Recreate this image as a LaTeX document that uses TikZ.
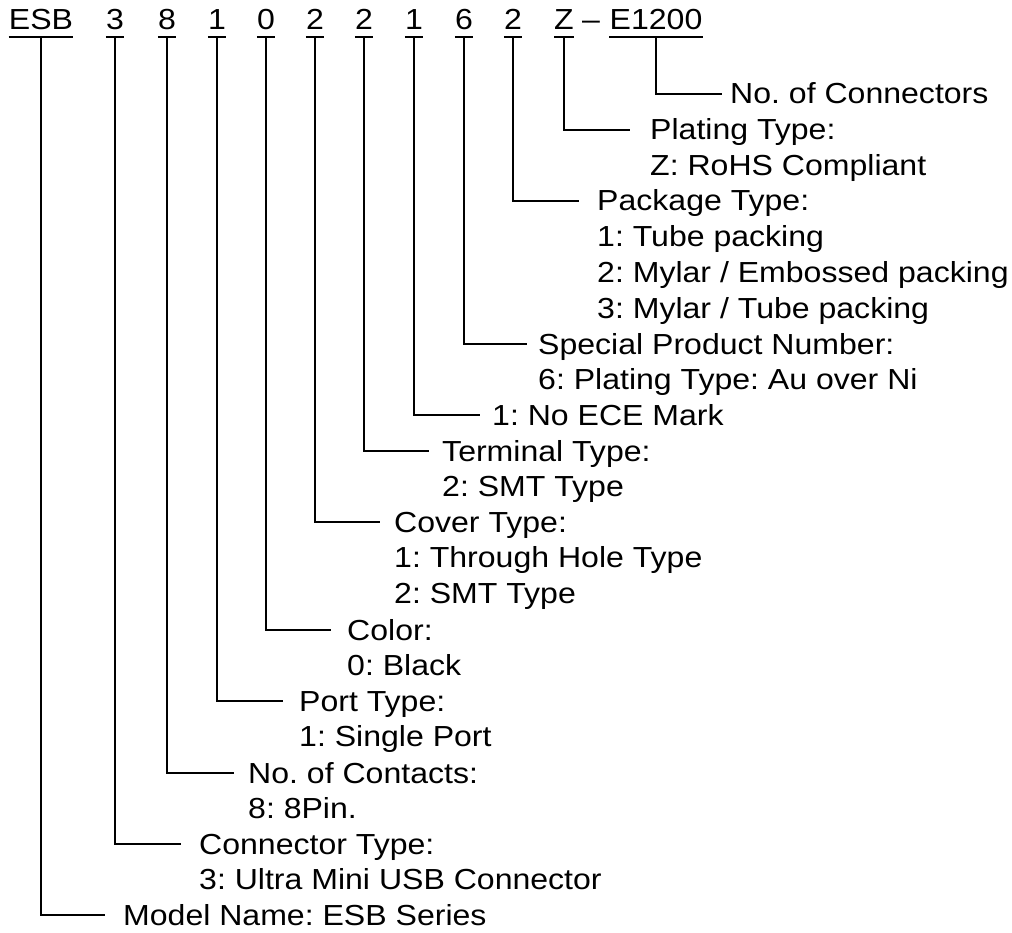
\documentclass[tikz,border=0pt]{standalone}
\usepackage{fontspec}
\setmainfont{Liberation Sans}[FakeStretch=1.105]
\newcommand\lblstack[1]{\vtop{\halign{##\hfil\cr#1\crcr}}}
\begin{document}
\begin{tikzpicture}[x=1pt,y=-1pt,
  code/.style={font=\fontsize{29}{35.7}\selectfont\frenchspacing, inner sep=0pt, text depth=7pt, anchor=base},
  lbl/.style={font=\fontsize{29}{35.7}\selectfont\frenchspacing, inner sep=0pt, anchor=base west},
  uline/.style={line width=2.6pt},
  conn/.style={line width=1.5pt}]
\useasboundingbox (0,0) rectangle (1012,933);
% top code
\node[code] (esb) at (41,30) {ESB};
\node[code] (c3) at (115,30) {3};
\node[code] (c8) at (167,30) {8};
\node[code] (c1a) at (217,30) {1};
\node[code] (c0) at (266,30) {0};
\node[code] (c2a) at (315,30) {2};
\node[code] (c2b) at (364,30) {2};
\node[code] (c1b) at (414,30) {1};
\node[code] (c6) at (464,30) {6};
\node[code] (c2c) at (513,30) {2};
\node[code] (cz) at (564,30) {Z};
\node[code] (dash) at (591,30) {–};
\node[code] (ce) at (656,30) {E1200};
\foreach \n in {esb,c3,c8,c1a,c0,c2a,c2b,c1b,c6,c2c,cz,ce}
  \draw[uline] (\n.south west) -- (\n.south east);
% labels
\node[lbl] (l1) at (730,104) {No. of Connectors};
\node[lbl] (l2) at (650,140) {\lblstack{Plating Type:\cr Z: RoHS Compliant}};
\node[lbl] (l3) at (597,211) {\lblstack{Package Type:\cr 1: Tube packing\cr 2: Mylar / Embossed packing\cr 3: Mylar / Tube packing}};
\node[lbl] (l4) at (538,354) {\lblstack{Special Product Number:\cr 6: Plating Type: Au over Ni}};
\node[lbl] (l5) at (492,425) {1: No ECE Mark};
\node[lbl] (l6) at (442,461) {\lblstack{Terminal Type:\cr 2: SMT Type}};
\node[lbl] (l7) at (394,532) {\lblstack{Cover Type:\cr 1: Through Hole Type\cr 2: SMT Type}};
\node[lbl] (l8) at (347,640) {\lblstack{Color:\cr 0: Black}};
\node[lbl] (l9) at (299,711) {\lblstack{Port Type:\cr 1: Single Port}};
\node[lbl] (l10) at (248,783) {\lblstack{No. of Contacts:\cr 8: 8Pin.}};
\node[lbl] (l11) at (199,854) {\lblstack{Connector Type:\cr 3: Ultra Mini USB Connector}};
\node[lbl] (l12) at (123,925) {Model Name: ESB Series};
% line ends
\coordinate (e1) at (722,94);
\coordinate (e2) at (630,130);
\coordinate (e3) at (579,201);
\coordinate (e4) at (527,344);
\coordinate (e5) at (480,415);
\coordinate (e6) at (429,451);
\coordinate (e7) at (380,522);
\coordinate (e8) at (331,630);
\coordinate (e9) at (283,701);
\coordinate (e10) at (234,773);
\coordinate (e11) at (181,844);
\coordinate (e12) at (105,915);
\draw[conn] (ce.south) |- (e1);
\draw[conn] (cz.south) |- (e2);
\draw[conn] (c2c.south) |- (e3);
\draw[conn] (c6.south) |- (e4);
\draw[conn] (c1b.south) |- (e5);
\draw[conn] (c2b.south) |- (e6);
\draw[conn] (c2a.south) |- (e7);
\draw[conn] (c0.south) |- (e8);
\draw[conn] (c1a.south) |- (e9);
\draw[conn] (c8.south) |- (e10);
\draw[conn] (c3.south) |- (e11);
\draw[conn] (esb.south) |- (e12);
\end{tikzpicture}
\end{document}
